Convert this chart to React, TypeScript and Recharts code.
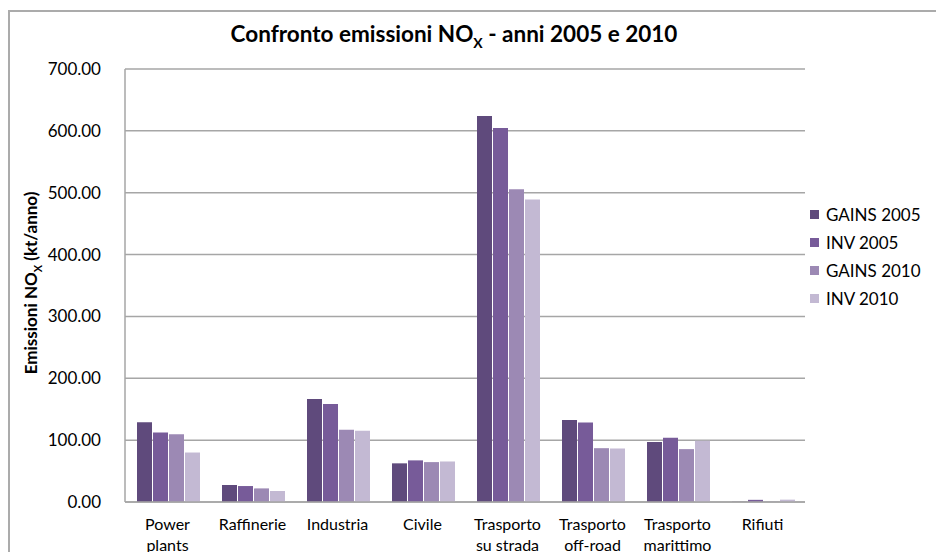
import React from "react";
import { BarChart, Bar, XAxis, YAxis, CartesianGrid } from "recharts";

// Sectors on the category axis ("\n" splits the tick label over two lines)
const categories = [
  "Power\nplants",
  "Raffinerie",
  "Industria",
  "Civile",
  "Trasporto\nsu strada",
  "Trasporto\noff-road",
  "Trasporto\nmarittimo",
  "Rifiuti",
];

// NOx emissions, kt/anno
const gains2005 = [129, 27.5, 166.5, 62.5, 624, 132.5, 97, 0.4];
const inv2005 = [112.5, 25.8, 158.5, 67.3, 604.5, 128.5, 104, 3.5];
const gains2010 = [109.5, 22, 117, 64.5, 505.5, 87, 85.5, 0.4];
const inv2010 = [80, 17.8, 115, 65.5, 489, 86.5, 99, 3.8];

const yTicks = [0, 100, 200, 300, 400, 500, 600, 700];

const series = [
  { key: "gains2005", name: "GAINS 2005", color: "#5F4A7C", values: gains2005 },
  { key: "inv2005", name: "INV 2005", color: "#775B99", values: inv2005 },
  { key: "gains2010", name: "GAINS 2010", color: "#9C89B4", values: gains2010 },
  { key: "inv2010", name: "INV 2010", color: "#C3B9D3", values: inv2010 },
];

const data = categories.map((c, i) => {
  const row: Record<string, string | number> = { category: c };
  series.forEach((s) => {
    row[s.key] = s.values[i];
  });
  return row;
});

const FONT = "Lato, 'Open Sans', sans-serif";

const CategoryTick = (props: any) => {
  const { x, y, payload } = props;
  const lines = String(payload.value).split("\n");
  return (
    <text x={x} y={y} textAnchor="middle" fontSize={16} fill="#000" fontFamily={FONT}>
      {lines.map((l, i) => (
        <tspan key={i} x={x} dy={i === 0 ? 28 : 21}>
          {l}
        </tspan>
      ))}
    </text>
  );
};

export default function App() {
  return (
    <div
      style={{
        position: "fixed",
        left: 0,
        top: 0,
        width: 936,
        height: 552,
        overflow: "hidden",
        fontFamily: FONT,
        background: "#fff",
      }}
    >
      {/* outer chart frame, running off the right and bottom edges */}
      <div
        style={{
          position: "absolute",
          left: 8,
          top: 10,
          width: 1000,
          height: 1000,
          border: "2px solid #ABABAB",
          boxSizing: "border-box",
        }}
      />
      <div
        style={{
          position: "absolute",
          left: 8,
          top: 20,
          width: 892,
          textAlign: "center",
          fontWeight: 700,
          fontSize: 22.5,
          color: "#000",
          whiteSpace: "nowrap",
        }}
      >
        Confronto emissioni NO<sub style={{ fontSize: 14 }}>X</sub> - anni 2005 e 2010
      </div>
      <div
        style={{
          position: "absolute",
          left: 32,
          top: 283,
          transform: "translate(-50%, -50%) rotate(-90deg)",
          fontWeight: 700,
          fontSize: 17,
          color: "#000",
          whiteSpace: "nowrap",
        }}
      >
        Emissioni NO<sub style={{ fontSize: 11 }}>X</sub> (kt/anno)
      </div>
      <div style={{ position: "absolute", left: 8, top: 8 }}>
        <BarChart
          width={928}
          height={544}
          data={data}
          margin={{ top: 61, right: 131, bottom: 0, left: 0 }}
          barCategoryGap={12}
          barGap={1}
        >
          <CartesianGrid vertical={false} stroke="#A6A6A6" strokeWidth={1.5} />
          <XAxis
            dataKey="category"
            interval={0}
            tickLine={false}
            tickSize={0}
            tickMargin={0}
            axisLine={{ stroke: "#A6A6A6", strokeWidth: 1.5 }}
            tick={<CategoryTick />}
            height={50}
          />
          <YAxis
            domain={[0, 700]}
            ticks={yTicks}
            width={117}
            tickLine={false}
            tickSize={0}
            tickMargin={24}
            axisLine={{ stroke: "#A6A6A6", strokeWidth: 1.5 }}
            tickFormatter={(v: number) => v.toFixed(2)}
            tick={{ fontSize: 17, fill: "#000", fontFamily: FONT }}
          />
          {series.map((s) => (
            <Bar key={s.key} dataKey={s.key} name={s.name} fill={s.color} isAnimationActive={false} />
          ))}
        </BarChart>
      </div>
      <div style={{ position: "absolute", left: 810, top: 201 }}>
        {series.map((s) => (
          <div
            key={s.key}
            style={{ display: "flex", alignItems: "center", height: 27.8, fontSize: 17, color: "#000" }}
          >
            <span style={{ width: 9, height: 9, background: s.color, marginRight: 7, display: "inline-block" }} />
            {s.name}
          </div>
        ))}
      </div>
    </div>
  );
}
